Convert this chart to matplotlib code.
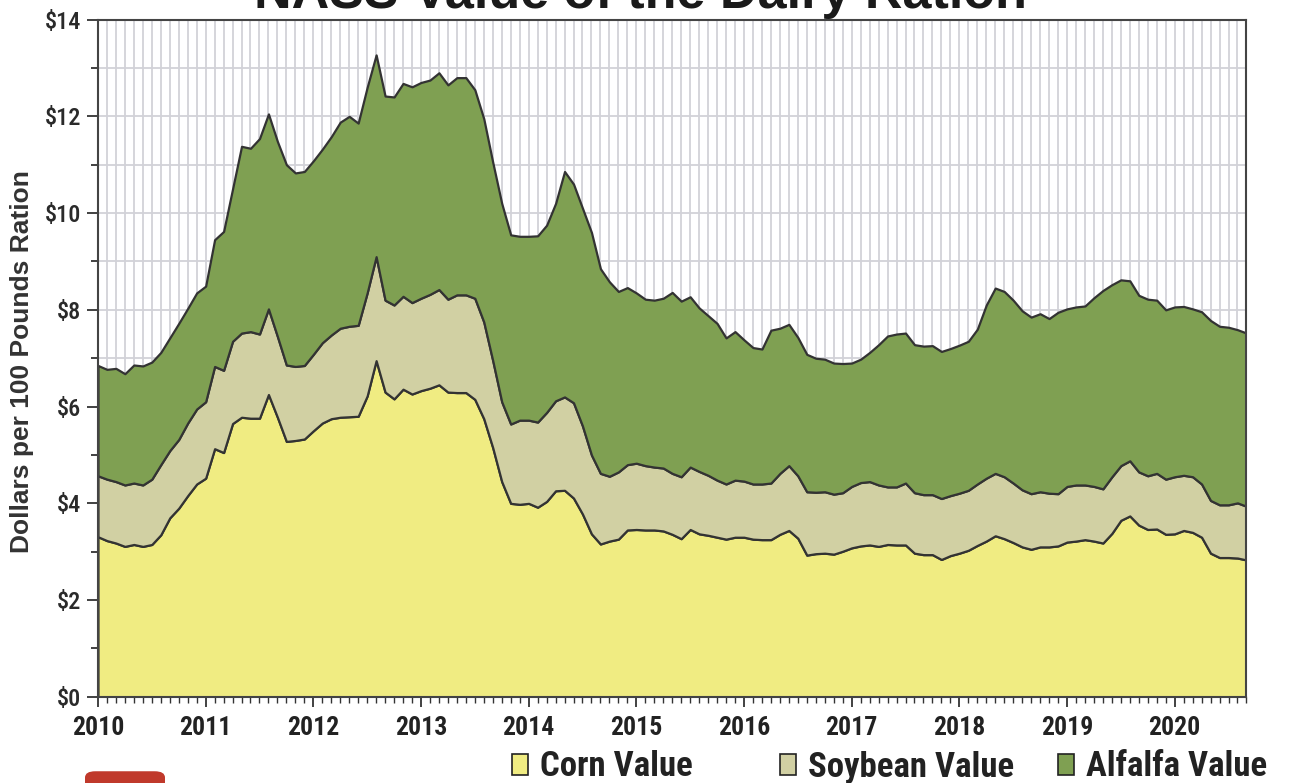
import numpy as np
import matplotlib.pyplot as plt
from matplotlib.patches import Patch, FancyBboxPatch

# monthly values, Jan 2010 .. Sep 2020 ($ per 100 lb ration)
# top edge of each stacked layer
corn_top = [3.31, 3.23, 3.18, 3.11, 3.15, 3.11, 3.15, 3.35, 3.70, 3.90, 4.16, 4.40,
            4.52, 5.13, 5.05, 5.65, 5.78, 5.76, 5.76, 6.25, 5.78, 5.28, 5.30, 5.33,
            5.50, 5.66, 5.75, 5.78, 5.79, 5.80, 6.22, 6.95, 6.30, 6.16, 6.36, 6.26,
            6.33, 6.38, 6.45, 6.30, 6.29, 6.29, 6.15, 5.75, 5.15, 4.45, 4.00, 3.98,
            4.00, 3.92, 4.04, 4.26, 4.27, 4.11, 3.78, 3.37, 3.16, 3.22, 3.26, 3.45,
            3.46, 3.45, 3.45, 3.43, 3.36, 3.27, 3.46, 3.37, 3.34, 3.30, 3.26, 3.30,
            3.30, 3.26, 3.25, 3.25, 3.36, 3.44, 3.28, 2.93, 2.96, 2.97, 2.95, 3.01,
            3.08, 3.12, 3.14, 3.11, 3.15, 3.14, 3.14, 2.97, 2.94, 2.94, 2.84, 2.92,
            2.97, 3.03, 3.13, 3.22, 3.33, 3.27, 3.19, 3.10, 3.05, 3.10, 3.10, 3.12,
            3.20, 3.22, 3.25, 3.22, 3.18, 3.38, 3.65, 3.74, 3.55, 3.46, 3.47, 3.36,
            3.37, 3.44, 3.40, 3.30, 2.97, 2.88, 2.88, 2.87, 2.83]
soy_top = [4.57, 4.50, 4.45, 4.38, 4.42, 4.38, 4.50, 4.80, 5.09, 5.32, 5.66, 5.95,
           6.10, 6.83, 6.75, 7.35, 7.52, 7.55, 7.50, 8.02, 7.45, 6.86, 6.83, 6.85,
           7.08, 7.32, 7.48, 7.62, 7.66, 7.68, 8.35, 9.10, 8.20, 8.10, 8.28, 8.15,
           8.24, 8.32, 8.42, 8.22, 8.31, 8.31, 8.24, 7.75, 6.95, 6.10, 5.64, 5.72,
           5.72, 5.68, 5.88, 6.12, 6.20, 6.08, 5.60, 5.00, 4.62, 4.56, 4.65, 4.80,
           4.83, 4.78, 4.75, 4.73, 4.62, 4.55, 4.75, 4.66, 4.58, 4.48, 4.40, 4.48,
           4.46, 4.40, 4.40, 4.42, 4.62, 4.78, 4.57, 4.24, 4.23, 4.24, 4.19, 4.22,
           4.35, 4.43, 4.45, 4.38, 4.34, 4.34, 4.42, 4.22, 4.18, 4.18, 4.10, 4.16,
           4.21, 4.27, 4.40, 4.52, 4.62, 4.55, 4.42, 4.28, 4.20, 4.24, 4.21, 4.20,
           4.35, 4.38, 4.38, 4.35, 4.30, 4.55, 4.78, 4.88, 4.65, 4.57, 4.62, 4.50,
           4.55, 4.58, 4.55, 4.40, 4.06, 3.97, 3.97, 4.01, 3.94]
total = [6.85, 6.77, 6.79, 6.68, 6.86, 6.84, 6.92, 7.12, 7.42, 7.72, 8.03, 8.35,
         8.49, 9.45, 9.62, 10.50, 11.38, 11.34, 11.54, 12.05, 11.48, 11.00, 10.83, 10.86,
         11.08, 11.32, 11.58, 11.88, 12.00, 11.86, 12.60, 13.27, 12.42, 12.40, 12.68, 12.61,
         12.70, 12.75, 12.90, 12.65, 12.80, 12.80, 12.55, 11.95, 11.05, 10.20, 9.55, 9.52,
         9.52, 9.53, 9.75, 10.20, 10.86, 10.60, 10.10, 9.60, 8.85, 8.58, 8.38, 8.46,
         8.35, 8.22, 8.20, 8.24, 8.36, 8.18, 8.27, 8.04, 7.88, 7.72, 7.42, 7.55,
         7.38, 7.22, 7.19, 7.58, 7.62, 7.70, 7.43, 7.08, 7.00, 6.98, 6.90, 6.89,
         6.90, 6.98, 7.12, 7.28, 7.46, 7.50, 7.52, 7.28, 7.25, 7.26, 7.14, 7.20,
         7.27, 7.35, 7.60, 8.10, 8.45, 8.38, 8.20, 7.98, 7.85, 7.92, 7.82, 7.95,
         8.02, 8.06, 8.08, 8.25, 8.40, 8.52, 8.62, 8.60, 8.30, 8.22, 8.20, 8.00,
         8.06, 8.07, 8.02, 7.96, 7.78, 7.66, 7.64, 7.59, 7.52]

years = list(range(2010, 2021))
labels = ["Corn Value", "Soybean Value", "Alfalfa Value"]
colors = ["#F0EC82", "#D1D0A3", "#7FA052"]

corn = np.array(corn_top)
soybean = np.array(soy_top) - corn
alfalfa = np.array(total) - np.array(soy_top)
months = np.arange(len(corn))

narrow = ["Roboto Condensed", "Barlow Condensed", "DejaVu Sans"]
W, H = 1289, 783

fig = plt.figure(figsize=(W / 100, H / 100), dpi=100)
ax = fig.add_axes([0.076, 0.110, 0.891, 0.865])

ax.stackplot(months, corn, soybean, alfalfa, colors=colors,
             edgecolor="#333333", linewidth=1.6)

ax.set_xlim(0, 128)
ax.set_ylim(0, 14)

# ticks and grid
ax.set_xticks([12 * i for i in range(len(years))])
ax.set_xticklabels([str(y) for y in years])
ax.set_xticks(np.arange(0, 129), minor=True)
ax.set_yticks(np.arange(0, 15, 2))
ax.set_yticklabels(["$%d" % v for v in range(0, 15, 2)])
ax.set_yticks(np.arange(0, 15, 1), minor=True)
ax.grid(True, which="both", color="#D2D2D8", linewidth=1.3)
ax.set_axisbelow(True)
ax.tick_params(axis="x", which="major", length=7, width=1.3, color="#333333", pad=7)
ax.tick_params(axis="x", which="minor", length=4, width=1, color="#333333")
ax.tick_params(axis="y", which="major", length=8, width=1.3, color="#333333", pad=4)
ax.tick_params(axis="y", which="minor", length=5, width=1.3, color="#333333")
for lab in ax.get_xticklabels():
    lab.set_family(narrow)
    lab.set_fontweight("bold")
    lab.set_fontsize(18.5)
    lab.set_color("#222222")
for lab in ax.get_yticklabels():
    lab.set_family(narrow)
    lab.set_fontweight("medium")
    lab.set_fontsize(17.5)
    lab.set_color("#2a2a2a")

for s in ax.spines.values():
    s.set_color("#444444")
    s.set_linewidth(1.5)

ax.set_ylabel("Dollars per 100 Pounds Ration", fontsize=19, fontweight="bold",
              family=["Liberation Sans", "DejaVu Sans"], color="#333333")
ax.yaxis.set_label_coords(-0.056, 0.495)

# title sits mostly above the cropped image
fig.text(0.497, 1 - 8 / H, "NASS Value of the Dairy Ration", ha="center",
         va="baseline", fontsize=37.5, fontweight="bold", color="#1a1a1a",
         family=["Liberation Sans", "DejaVu Sans"])

# legend entries placed one by one along the bottom
legend_x = [512, 780, 1058]
for lx, lab, c in zip(legend_x, labels, colors):
    h = Patch(facecolor=c, edgecolor="#222222", linewidth=1.2)
    leg = fig.legend([h], [lab], loc="center left", bbox_to_anchor=(lx / W, 1 - 767 / H),
                     frameon=False, handlelength=0.45, handleheight=0.55,
                     handletextpad=0.35, borderpad=0, borderaxespad=0,
                     prop={"family": narrow, "weight": "bold", "size": 25})
    for t in leg.get_texts():
        t.set_color("#222222")

# cropped red logo in the bottom corner
fig.patches.append(FancyBboxPatch((85 / W, -0.02), 80 / W, 0.035,
                                  boxstyle="round,pad=0,rounding_size=0.008",
                                  transform=fig.transFigure, facecolor="#C0392B",
                                  edgecolor="none"))

fig.savefig("out.png", dpi=100)
